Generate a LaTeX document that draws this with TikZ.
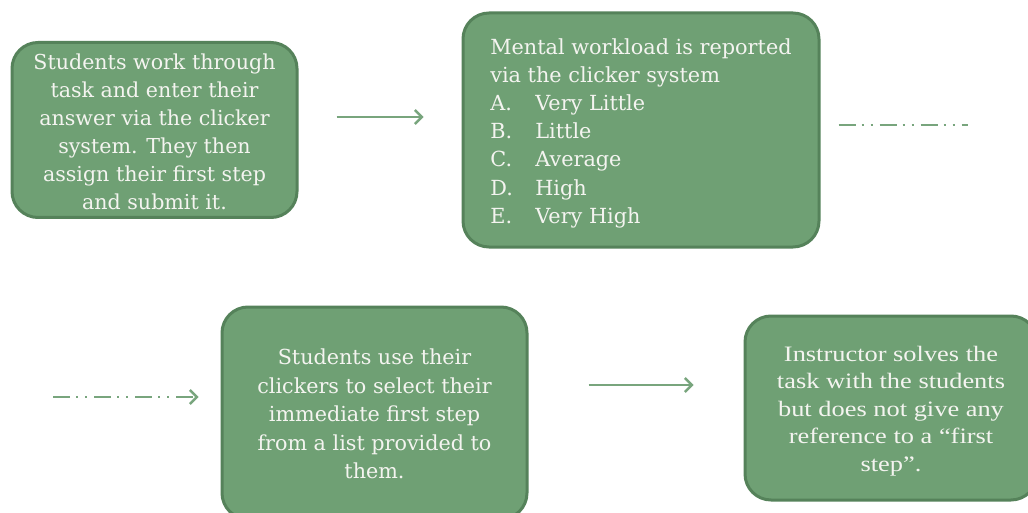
\documentclass[tikz,border=0pt]{standalone}
\usepackage{fontspec}
\setmainfont{DejaVu Serif}
\newfontfamily\palfont[FakeStretch=1.2]{Liberation Serif}
\usetikzlibrary{arrows.meta}
\definecolor{boxfill}{HTML}{6FA074}
\definecolor{boxedge}{HTML}{55825A}
\definecolor{arrowcol}{HTML}{78A57D}
\definecolor{txt}{HTML}{F4F4F0}
\tikzset{
  flowbox/.style={draw=boxedge, line width=3pt, fill=boxfill, rounded corners=26pt,
    text=txt, inner sep=0pt},
  conn/.style={draw=arrowcol, line width=2.6pt},
  tip/.style={-{Straight Barb[length=7pt,width=14pt,line width=2.4pt]}},
  dashdot/.style={dash pattern=on 17pt off 6pt on 2pt off 7pt on 2pt off 7pt}
}
\begin{document}
\begin{tikzpicture}[x=1pt,y=-1pt]
\useasboundingbox (0,0) rectangle (1028,513);
\clip (0,0) rectangle (1028,513);
\node[flowbox, minimum width=285pt, minimum height=174pt] (b1) at (154.5,130)
  {\fontsize{20.6}{28}\selectfont\begin{tabular}{@{}c@{}}\noalign{\vskip7pt}Students work through\\task and enter their\\answer via the clicker\\system. They then\\assign their first step\\and submit it.\end{tabular}};
\node[flowbox, minimum width=356pt, minimum height=234pt] (b2) at (641,130)
  {\fontsize{20.8}{28.2}\selectfont\begin{tabular}{@{}l@{}}\noalign{\vskip6pt}Mental workload is reported\\via the clicker system\\\makebox[45pt][l]{A.}Very Little\\\makebox[45pt][l]{B.}Little\\\makebox[45pt][l]{C.}Average\\\makebox[45pt][l]{D.}High\\\makebox[45pt][l]{E.}Very High\end{tabular}};
\node[flowbox, minimum width=305pt, minimum height=212pt] (b3) at (374.5,413)
  {\fontsize{20.7}{28.5}\selectfont\begin{tabular}{@{}c@{}}\noalign{\vskip6pt}Students use their\\clickers to select their\\immediate first step\\from a list provided to\\them.\end{tabular}};
\node[flowbox, minimum width=292pt, minimum height=184pt] (b4) at (891,408)
  {\palfont\fontsize{22}{27.5}\selectfont\begin{tabular}{@{}c@{}}\noalign{\vskip5pt}Instructor solves the\\task with the students\\but does not give any\\reference to a “first\\step”.\end{tabular}};
\coordinate (e1) at (968,125);
\coordinate (s2) at (53,397);
\draw[conn, tip, shorten <=38pt, shorten >=38pt] ([yshift=13pt]b1.east) -- ([yshift=13pt]b1.east -| b2.west);
\draw[conn, dashdot, shorten <=18pt] (b2.east |- e1) -- (e1);
\draw[conn, dashdot, tip, shorten >=22pt] (s2) -- (s2 -| b3.west);
\draw[conn, tip, shorten <=60pt, shorten >=50pt] ([yshift=28pt]b3.east) -- ([yshift=28pt]b3.east -| b4.west);
\end{tikzpicture}
\end{document}
